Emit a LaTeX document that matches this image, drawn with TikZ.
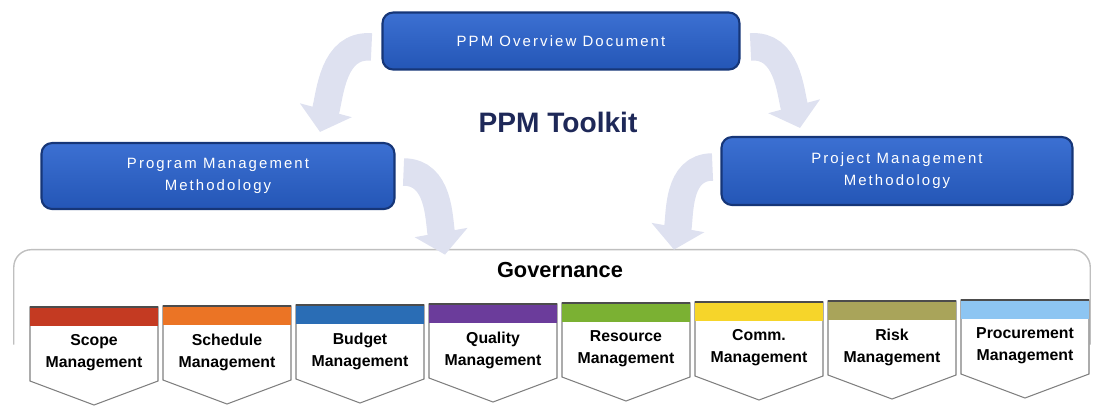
\documentclass[tikz,border=0pt]{standalone}
\usepackage{fontspec}
\setmainfont{Liberation Sans}
\newfontfamily\boxfont[LetterSpace=14]{Liberation Sans}
\usetikzlibrary{arrows.meta,positioning}
\definecolor{ppmblue}{RGB}{36,86,182}
\definecolor{ppmlight}{RGB}{60,112,210}
\definecolor{ppmdark}{RGB}{22,54,120}
\definecolor{ppmnavy}{RGB}{30,40,88}
\definecolor{flowgray}{RGB}{222,225,240}
\definecolor{scopered}{RGB}{196,58,34}
\definecolor{schedorange}{RGB}{235,116,37}
\definecolor{budgetblue}{RGB}{42,109,181}
\definecolor{qualpurple}{RGB}{107,60,155}
\definecolor{resgreen}{RGB}{123,177,51}
\definecolor{commyellow}{RGB}{246,213,42}
\definecolor{riskolive}{RGB}{169,164,90}
\definecolor{procblue}{RGB}{141,197,242}

\begin{document}
\begin{tikzpicture}[x=0.02cm, y=0.02cm,
    ppmbox/.style={draw=ppmdark, line width=1.2pt, rounded corners=6pt,
        top color=ppmlight, bottom color=ppmblue, text=white, align=center,
        font=\boxfont\fontsize{8.5}{12.5}\selectfont},
    flow/.style={draw=flowgray, line width=0.55cm,
        -{Triangle[length=0.45cm, width=1.05cm]}},
    chevline/.style={draw=black!50, line width=0.6pt},
    pmtext/.style={align=center, font=\bfseries\fontsize{9}{12.5}\selectfont}]
    \useasboundingbox (0,0) rectangle (1101,-407);

    % methodology documents
    \node[ppmbox, minimum width=7.14cm, minimum height=1.14cm] (top) at (561,-41) {PPM Overview Document};
    \node[ppmbox, minimum width=7.06cm, minimum height=1.32cm] (prog) at (218,-176) {Program Management\\Methodology};
    \node[ppmbox, minimum width=7.02cm, minimum height=1.36cm] (proj) at (897,-171) {Project Management\\Methodology};
    \node[text=ppmnavy, font=\bfseries\fontsize{16}{19}\selectfont] (kit) at (558,-122) {PPM Toolkit};

    % governance frame, open at the bottom
    \node[minimum width=21.52cm, minimum height=3cm] (gov) at (552,-325) {};
    \draw[black!25, line width=0.8pt, rounded corners=10pt]
        ([yshift=-1.9cm]gov.north west) -- (gov.north west) -- (gov.north east) -- ([yshift=-1.9cm]gov.north east);
    \node[font=\bfseries\fontsize{12.4}{15}\selectfont] (govt) at (560,-270) {Governance};

    \draw[flow] ([shift={(-10,-6)}]top.west) to[out=175, in=75] ([shift={(102,10)}]prog.north);
    \draw[flow] ([shift={(10,-6)}]top.east) to[out=5, in=105] ([shift={(-97,8)}]proj.north);
    \draw[flow] ([shift={(8,4)}]prog.east) to[out=0, in=100] ([shift={(-107,-5)}]gov.north);
    \draw[flow] ([shift={(-8,4)}]proj.west) to[out=180, in=80] ([shift={(122,0)}]gov.north);

    % knowledge areas
    \foreach \x/\y/\col/\lna/\lnb [count=\i] in {30/307/scopered/Scope/Management,
            163/306/schedorange/Schedule/Management, 296/305/budgetblue/Budget/Management,
            429/304/qualpurple/Quality/Management, 562/303/resgreen/Resource/Management,
            695/302/commyellow/Comm./Management, 828/301/riskolive/Risk/Management,
            961/300/procblue/Procurement/Management} {
        \filldraw[chevline, fill=white] (\x,-\y) -- (\x+128,-\y) -- (\x+128,-\y-74)
            -- (\x+64,-\y-98) -- (\x,-\y-74) -- cycle;
        \fill[\col] (\x,-\y) rectangle (\x+128,-\y-19);
        \draw[black!70, line width=0.8pt] (\x,-\y) -- (\x+128,-\y);
        \node[pmtext] (pm\i) at (\x+64,-\y-46) {\lna\\\lnb};
    }
\end{tikzpicture}
\end{document}
